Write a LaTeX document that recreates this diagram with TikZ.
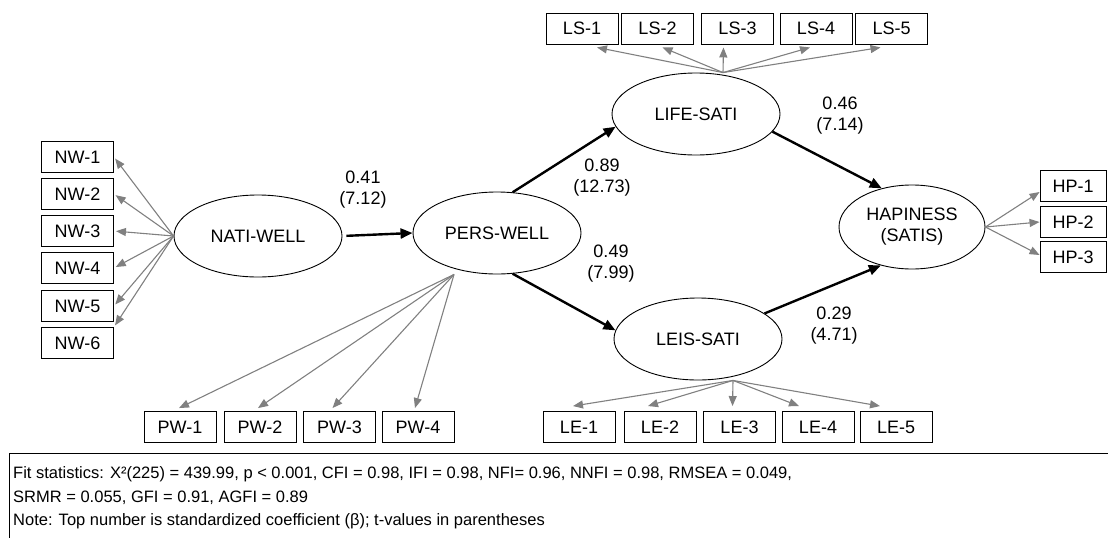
\documentclass[tikz,border=0pt]{standalone}
\usepackage{fontspec}
\setmainfont{Liberation Sans}
\usetikzlibrary{shapes.geometric,arrows.meta}

\newcommand\lblfont{\fontsize{18}{21}\selectfont}
\newcommand\fitfont{\fontsize{16.5}{20}\selectfont}

\begin{document}
\begin{tikzpicture}[x=1pt, y=-1pt,
    indic/.style={draw, line width=0.9pt, minimum width=72pt, minimum height=31pt, inner sep=0pt, font=\lblfont},
    latent/.style={draw, ellipse, line width=0.9pt, inner sep=0pt, minimum width=168pt, minimum height=82pt, align=center, font=\lblfont},
    loading/.style={-{Triangle[length=10pt,width=8pt]}, gray, line width=1.1pt},
    effect/.style={-{Triangle[length=12pt,width=10pt]}, black, line width=2.4pt},
    coef/.style={align=center, font=\lblfont}]
    \useasboundingbox (0,0) rectangle (1108,538);

    % latent variables
    \node[latent] (nati) at (258,236) {NATI-WELL};
    \node[latent] (pers) at (497,233) {PERS-WELL};
    \node[latent] (life) at (696,114) {LIFE-SATI};
    \node[latent] (leis) at (698,339) {LEIS-SATI};
    \node[latent, minimum width=146pt, minimum height=84pt] (hap) at (912,227) {HAPINESS\\(SATIS)};

    % indicators
    \foreach \i/\y in {1/157, 2/194, 3/231, 4/268, 5/306, 6/343}
        \node[indic] (nw\i) at (77.5,\y) {NW-\i};
    \foreach \i/\x in {1/582, 2/657.5, 3/737.5, 4/816, 5/891.5}
        \node[indic] (ls\i) at (\x,28.5) {LS-\i};
    \foreach \i/\x in {1/180, 2/260, 3/339.5, 4/418}
        \node[indic] (pw\i) at (\x,427) {PW-\i};
    \foreach \i/\x in {1/579, 2/660, 3/739.5, 4/818, 5/896}
        \node[indic] (le\i) at (\x,427) {LE-\i};
    \foreach \i/\y in {1/186, 2/222, 3/257}
        \node[indic, minimum width=66pt] (hp\i) at (1073,\y) {HP-\i};

    % loadings
    \foreach \i/\a in {1/east, 2/east, 3/east, 4/east, 5/east, 6/north east}
        \draw[loading, shorten >=2pt] (nati.west) -- (nw\i.\a);
    \foreach \i/\dx in {1/15, 2/5, 3/-14, 4/-6, 5/-11}
        \draw[loading] ([xshift=27pt]life.north) -- ([xshift=\dx pt, yshift=-3pt]ls\i.south);
    \foreach \i/\dx in {1/-1, 2/-2, 3/-7, 4/-3}
        \draw[loading] ([xshift=-43pt]pers.south) -- ([xshift=\dx pt, yshift=3pt]pw\i.north);
    \foreach \i/\dx in {1/-6, 2/-12, 3/-7, 4/-19, 5/-16}
        \draw[loading] ([xshift=35pt]leis.south) -- ([xshift=\dx pt, yshift=5pt]le\i.north);
    \foreach \i/\dy in {1/-6, 2/0, 3/2}
        \draw[loading] (hap.east) -- ([yshift=\dy pt]hp\i.west);

    % structural paths
    \draw[effect, shorten <=4pt] (nati.east) -- (pers.west);
    \draw[effect] (pers.69) -- (life.189);
    \draw[effect] (pers.-69) -- (leis.174);
    \draw[effect] (life.-13) -- (hap.128);
    \draw[effect] (leis.21) -- (hap.231);

    \node[coef] (kNP) at (363,190) {0.41\\(7.12)};
    \node[coef] (kPL) at (602,178) {0.89\\(12.73)};
    \node[coef] (kPE) at (611,264) {0.49\\(7.99)};
    \node[coef] (kLH) at (840,116) {0.46\\(7.14)};
    \node[coef] (kEH) at (834,326) {0.29\\(4.71)};

    % fit statistics
    \draw[line width=0.9pt] (1108,453) -| (9,538);
    \node[anchor=base west, font=\fitfont, inner sep=0pt] (fit1) at (13,478) {Fit statistics: X²(225) = 439.99, p < 0.001, CFI = 0.98, IFI = 0.98, NFI= 0.96, NNFI = 0.98, RMSEA = 0.049,};
    \node[anchor=base west, font=\fitfont, inner sep=0pt] (fit2) at (13,502) {SRMR = 0.055, GFI = 0.91, AGFI = 0.89};
    \node[anchor=base west, font=\fitfont, inner sep=0pt] (note) at (13,525) {Note: Top number is standardized coefficient (β); t-values in parentheses};
\end{tikzpicture}
\end{document}
